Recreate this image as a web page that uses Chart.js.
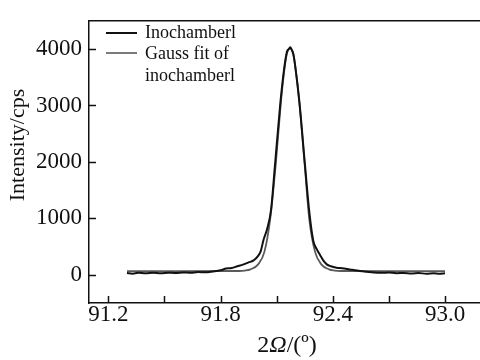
<!DOCTYPE html>
<html>
<head>
<meta charset="utf-8">
<script src="https://cdn.jsdelivr.net/npm/chart.js@4"></script>
<style>
  html, body { margin: 0; padding: 0; background: #fff; overflow: hidden; }
</style>
</head>
<body>
<canvas id="chart" width="480" height="360"></canvas>
<script>
// measured curve (Inochamberl)
const measX = [91.30, 91.33, 91.36, 91.40, 91.44, 91.48, 91.52, 91.56, 91.60, 91.64, 91.68, 91.72, 91.76, 91.80, 91.83, 91.86, 91.89, 91.92, 91.95, 91.975, 92.00, 92.015, 92.03, 92.05, 92.07, 92.09, 92.12, 92.14, 92.155, 92.165, 92.172, 92.18, 92.19, 92.20, 92.222, 92.25, 92.275, 92.296, 92.315, 92.332, 92.35, 92.368, 92.39, 92.42, 92.45, 92.49, 92.53, 92.58, 92.62, 92.66, 92.70, 92.74, 92.78, 92.82, 92.86, 92.90, 92.94, 92.97, 93.00];
const measY = [30, 20, 35, 25, 35, 28, 38, 30, 42, 35, 48, 45, 60, 80, 110, 120, 150, 180, 220, 250, 330, 420, 620, 820, 1150, 1900, 3050, 3650, 3950, 4000, 4030, 3990, 3900, 3680, 3050, 2000, 1100, 600, 450, 350, 250, 185, 150, 125, 115, 95, 75, 55, 40, 35, 40, 28, 32, 22, 30, 20, 28, 20, 25];

// Gauss fit curve
const fitX = [91.30, 91.60, 91.90, 91.93, 91.96, 92.00, 92.035, 92.066, 92.095, 92.122, 92.14, 92.155, 92.172, 92.188, 92.203, 92.222, 92.25, 92.274, 92.305, 92.34, 92.38, 92.41, 92.44, 92.70, 93.00];
const fitY = [65, 65, 67, 75, 97, 180, 410, 1000, 1950, 3030, 3600, 3920, 4010, 3920, 3600, 3030, 1950, 1000, 410, 180, 97, 75, 67, 65, 65];

// axes
const xTickVals = [91.2, 91.5, 91.8, 92.1, 92.4, 92.7, 93.0];
const xTickLabels = ["91.2", "", "91.8", "", "92.4", "", "93.0"];
const yTickVals = [0, 1000, 2000, 3000, 4000];

const FONT = "'Liberation Serif', 'DejaVu Serif', serif";
const INK = "#111";

function toPoints(xs, ys) {
  return xs.map((x, i) => ({ x: x, y: ys[i] }));
}

// inward tick marks, top frame line, titles and legend
const decor = {
  id: "decor",
  afterDraw(chart) {
    const ctx = chart.ctx;
    const a = chart.chartArea;
    const xs = chart.scales.x;
    const ys = chart.scales.y;
    ctx.save();
    ctx.strokeStyle = INK;
    ctx.lineWidth = 1.5;
    ctx.beginPath();
    ctx.moveTo(a.left, a.top);
    ctx.lineTo(a.right, a.top);
    xTickVals.forEach(v => {
      const px = Math.round(xs.getPixelForValue(v)) + 0.5;
      ctx.moveTo(px, a.bottom);
      ctx.lineTo(px, a.bottom - 7);
    });
    yTickVals.forEach(v => {
      const py = Math.round(ys.getPixelForValue(v)) + 0.5;
      ctx.moveTo(a.left, py);
      ctx.lineTo(a.left + 7, py);
    });
    ctx.stroke();

    // axis titles
    ctx.fillStyle = INK;
    ctx.textBaseline = "middle";
    ctx.font = "22px " + FONT;
    ctx.save();
    ctx.translate(18, 145);
    ctx.rotate(-Math.PI / 2);
    ctx.textAlign = "center";
    ctx.fillText("Intensity/cps", 0, 0);
    ctx.restore();

    const parts = [["2", ""], ["Ω", "italic "], ["/(º)", ""]];
    let total = 0;
    parts.forEach(p => { ctx.font = p[1] + "24px " + FONT; total += ctx.measureText(p[0]).width; });
    let tx = 287 - total / 2;
    ctx.textAlign = "left";
    parts.forEach(p => {
      ctx.font = p[1] + "24px " + FONT;
      ctx.fillText(p[0], tx, 346);
      tx += ctx.measureText(p[0]).width;
    });

    // legend
    ctx.lineWidth = 2;
    ctx.strokeStyle = INK;
    ctx.beginPath(); ctx.moveTo(106, 33); ctx.lineTo(137, 33); ctx.stroke();
    ctx.strokeStyle = "#5a5a5a";
    ctx.lineWidth = 1.6;
    ctx.beginPath(); ctx.moveTo(106, 53); ctx.lineTo(137, 53); ctx.stroke();
    ctx.font = "18px " + FONT;
    ctx.fillText("Inochamberl", 145, 33);
    ctx.fillText("Gauss fit of", 145, 54);
    ctx.fillText("inochamberl", 145, 76);
    ctx.restore();
  }
};

new Chart(document.getElementById("chart"), {
  type: "line",
  data: {
    datasets: [
      {
        label: "Inochamberl",
        data: toPoints(measX, measY),
        borderColor: INK,
        borderWidth: 2,
        pointRadius: 0,
        cubicInterpolationMode: "monotone",
        fill: false
      },
      {
        label: "Gauss fit of inochamberl",
        data: toPoints(fitX, fitY),
        borderColor: "#5a5a5a",
        borderWidth: 1.8,
        pointRadius: 0,
        cubicInterpolationMode: "monotone",
        fill: false
      }
    ]
  },
  options: {
    responsive: false,
    animation: false,
    devicePixelRatio: 1,
    layout: { padding: { top: 10, right: 0, left: 0, bottom: 0 } },
    plugins: {
      legend: { display: false },
      tooltip: { enabled: false }
    },
    scales: {
      x: {
        type: "linear",
        min: 91.097,
        max: 93.187,
        afterBuildTicks: s => { s.ticks = xTickVals.map(v => ({ value: v })); },
        afterFit: s => { s.height = 57; },
        grid: { display: false, drawTicks: false },
        border: { display: true, color: INK, width: 1.5 },
        ticks: {
          padding: -2,
          color: INK,
          maxRotation: 0,
          autoSkip: false,
          font: { family: FONT, size: 23 },
          callback: (v, i) => xTickLabels[i]
        }
      },
      y: {
        min: -500,
        max: 4500,
        afterBuildTicks: s => { s.ticks = yTickVals.map(v => ({ value: v })); },
        afterFit: s => { s.width = 89; },
        grid: { display: false, drawTicks: false },
        border: { display: true, color: INK, width: 1.5 },
        ticks: {
          padding: 7,
          color: INK,
          font: { family: FONT, size: 23 },
          callback: v => String(v)
        }
      }
    }
  },
  plugins: [decor]
});
</script>
</body>
</html>
